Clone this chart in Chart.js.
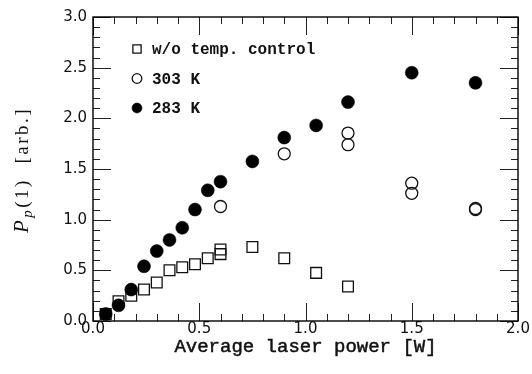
<!DOCTYPE html>
<html>
<head>
<meta charset="utf-8">
<script src="https://cdn.jsdelivr.net/npm/chart.js@4/dist/chart.umd.min.js"></script>
<style>
  html, body { margin: 0; padding: 0; background: #fff; }
  #wrap { width: 532px; height: 374px; }
</style>
</head>
<body>
<div id="wrap"><canvas id="chart" width="532" height="374"></canvas></div>
<script>
// Points: average laser power [W] -> P_p(1) [arb.]
const powerNoCtrl  = [0.06, 0.12, 0.18, 0.24, 0.30, 0.36, 0.42, 0.48, 0.54, 0.60, 0.60, 0.75, 0.90, 1.05, 1.20];
const signalNoCtrl = [0.07, 0.195, 0.25, 0.31, 0.38, 0.50, 0.53, 0.56, 0.62, 0.66, 0.705, 0.73, 0.62, 0.475, 0.34];

const power303  = [0.60, 0.90, 1.20, 1.20, 1.50, 1.50, 1.80, 1.80];
const signal303 = [1.13, 1.65, 1.855, 1.74, 1.36, 1.26, 1.11, 1.10];

const power283  = [0.06, 0.12, 0.18, 0.24, 0.30, 0.36, 0.42, 0.48, 0.54, 0.60, 0.75, 0.90, 1.05, 1.20, 1.50, 1.80];
const signal283 = [0.07, 0.155, 0.31, 0.54, 0.69, 0.80, 0.92, 1.10, 1.29, 1.375, 1.575, 1.81, 1.93, 2.16, 2.45, 2.35];

const seriesLabels = ['w/o temp. control', '303 K', '283 K'];
const xTitle = 'Average laser power [W]';

const X_MIN = 0, X_MAX = 2, Y_MIN = 0, Y_MAX = 3;

const MONO = '"Liberation Mono", "DejaVu Sans Mono", monospace';
const SERIF = '"Liberation Serif", "DejaVu Serif", serif';
const SANS = '"DejaVu Sans", sans-serif';

function pts(xs, ys) {
  return xs.map((x, i) => ({ x, y: ys[i] }));
}

// ── frame + inward ticks on all four sides, axis titles ─────────
const framePlugin = {
  id: 'frame',
  afterDraw(chart) {
    const { ctx, chartArea: a, scales } = chart;
    ctx.save();
    ctx.strokeStyle = '#222';
    ctx.lineWidth = 1;
    ctx.beginPath();
    for (let i = 0; i <= 20; i++) {
      const px = Math.round(scales.x.getPixelForValue(i / 10)) + 0.5;
      const len = i % 5 === 0 ? 18 : 7;
      ctx.moveTo(px, a.bottom); ctx.lineTo(px, a.bottom - len);
      ctx.moveTo(px, a.top);    ctx.lineTo(px, a.top + len);
    }
    for (let i = 0; i <= 30; i++) {
      const py = Math.round(scales.y.getPixelForValue(i / 10)) + 0.5;
      const len = i % 5 === 0 ? 18 : 7;
      ctx.moveTo(a.left, py);  ctx.lineTo(a.left + len, py);
      ctx.moveTo(a.right, py); ctx.lineTo(a.right - len, py);
    }
    ctx.stroke();

    ctx.strokeStyle = '#000';
    ctx.lineWidth = 1.4;
    ctx.strokeRect(a.left, a.top, a.right - a.left, a.bottom - a.top);

    // x title
    ctx.fillStyle = '#111';
    ctx.font = '19px ' + MONO;
    ctx.textAlign = 'center';
    ctx.textBaseline = 'middle';
    ctx.fillText(xTitle, (a.left + a.right) / 2, 347);
    ctx.lineWidth = 0.5;
    ctx.strokeStyle = '#111';
    ctx.strokeText(xTitle, (a.left + a.right) / 2, 347);

    // y title: P_p(1) [arb.]
    const parts = [
      { t: 'P', font: 'italic 21px ' + SERIF, dy: 0 },
      { t: 'p', font: 'italic 15px ' + SERIF, dy: 4 },
      { t: '(1)', font: '19px ' + SERIF, dy: 0 },
      { t: '  [arb.]', font: '19px ' + SERIF, dy: 0 },
    ];
    ctx.save();
    ctx.translate(28, 170);
    ctx.rotate(-Math.PI / 2);
    ctx.textAlign = 'left';
    ctx.textBaseline = 'alphabetic';
    ctx.letterSpacing = '2.5px';
    let total = 0;
    parts.forEach(p => { ctx.font = p.font; p.w = ctx.measureText(p.t).width; total += p.w; });
    let x = -total / 2;
    parts.forEach(p => { ctx.font = p.font; ctx.fillText(p.t, x, p.dy); x += p.w; });
    ctx.restore();
    ctx.restore();
  },
};

// ── legend inside the top-left corner ───────────────────────────
const legendPlugin = {
  id: 'innerLegend',
  afterDatasetsDraw(chart) {
    const { ctx, chartArea: a } = chart;
    ctx.save();
    chart.data.datasets.forEach((ds, i) => {
      const x = a.left + 44;
      const y = a.top + 32 + i * 29.5;
      ctx.fillStyle = ds.backgroundColor;
      ctx.strokeStyle = ds.borderColor;
      ctx.lineWidth = ds.borderWidth;
      Chart.helpers.drawPoint(ctx, {
        pointStyle: ds.pointStyle,
        radius: ds.legendRadius,
        borderWidth: ds.borderWidth,
        rotation: 0,
      }, x, y);
      ctx.fillStyle = '#111';
      ctx.font = 'bold 16px ' + MONO;
      ctx.textAlign = 'left';
      ctx.textBaseline = 'middle';
      ctx.fillText(ds.label, x + 15, y + 1);
    });
    ctx.restore();
  },
};

new Chart(document.getElementById('chart'), {
  type: 'scatter',
  data: {
    datasets: [
      {
        label: seriesLabels[0],
        data: pts(powerNoCtrl, signalNoCtrl),
        pointStyle: 'rect',
        pointRadius: 7.6,
        legendRadius: 5.8,
        borderColor: '#111',
        backgroundColor: 'rgba(255,255,255,0)',
        borderWidth: 1.3,
        order: 3,
      },
      {
        label: seriesLabels[1],
        data: pts(power303, signal303),
        pointStyle: 'circle',
        pointRadius: 6,
        legendRadius: 4.8,
        borderColor: '#111',
        backgroundColor: 'rgba(255,255,255,0)',
        borderWidth: 1.3,
        order: 2,
      },
      {
        label: seriesLabels[2],
        data: pts(power283, signal283),
        pointStyle: 'circle',
        pointRadius: 6.5,
        legendRadius: 5,
        borderColor: '#000',
        backgroundColor: '#000',
        borderWidth: 0.5,
        order: 1,
      },
    ],
  },
  options: {
    responsive: false,
    animation: false,
    events: [],
    layout: { padding: { left: 0, top: 17, right: 14, bottom: 0 } },
    plugins: {
      legend: { display: false },
      tooltip: { enabled: false },
    },
    scales: {
      x: {
        type: 'linear',
        min: X_MIN,
        max: X_MAX,
        grid: { display: false, drawTicks: false, tickLength: 0 },
        border: { display: false },
        ticks: {
          stepSize: 0.5,
          padding: -1,
          color: '#111',
          font: { family: SANS, size: 15 },
          callback: v => v.toFixed(1),
          maxRotation: 0,
        },
        afterFit: s => { s.height = 53; },
      },
      y: {
        type: 'linear',
        min: Y_MIN,
        max: Y_MAX,
        grid: { display: false, drawTicks: false, tickLength: 0 },
        border: { display: false },
        ticks: {
          stepSize: 0.5,
          padding: 6,
          color: '#111',
          font: { family: SANS, size: 15 },
          callback: v => v.toFixed(1),
        },
        afterFit: s => { s.width = 93; },
      },
    },
  },
  plugins: [legendPlugin, framePlugin],
});
</script>
</body>
</html>
